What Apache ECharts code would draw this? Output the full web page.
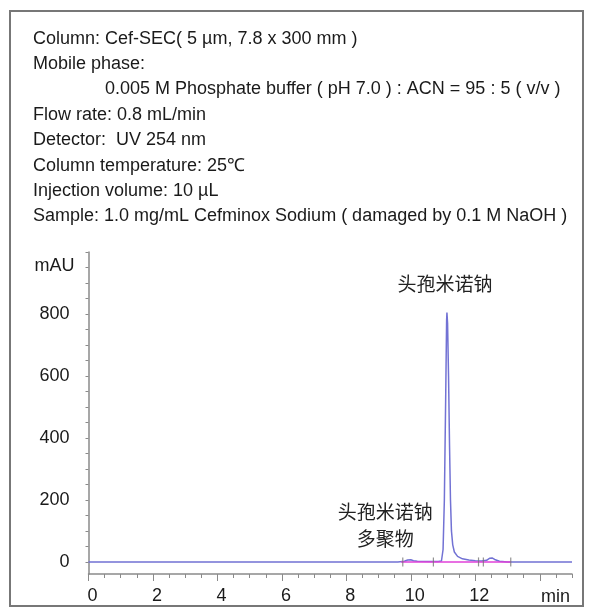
<!DOCTYPE html>
<html>
<head>
<meta charset="utf-8">
<script src="https://cdn.jsdelivr.net/npm/echarts@6/dist/echarts.min.js"></script>
<style>
  html, body { margin: 0; padding: 0; background: #fff; }
  #grafico { width: 592px; height: 613px; }
</style>
</head>
<body>
<div id="grafico"></div>
<script>
// Datos del cromatograma (tiempo en min, absorbancia en mAU)
var tiempos = [0, 9.6, 9.8, 9.9, 9.95, 10.0, 10.08, 10.2, 10.6, 10.85,
  10.95, 11.0, 11.04, 11.08, 11.11, 11.12, 11.14, 11.17, 11.2, 11.23,
  11.26, 11.3, 11.35, 11.45, 11.6, 11.8, 12.0, 12.2, 12.35, 12.45,
  12.52, 12.6, 12.75, 13.0, 15];
var absorbancia = [0, 0, 2, 6, 8, 7, 4, 2, 1, 1,
  3, 40, 200, 520, 780, 805, 770, 600, 380, 200,
  100, 55, 32, 18, 10, 6, 4, 3, 5, 12,
  13, 8, 2, 0, 0];

// Línea base de integración y marcas de integración
var baseTiempos = [9.7, 13.1];
var baseValores = [0, 0];
var marcasTiempos = [9.75, 10.7, 12.1, 12.25, 13.1];

// Picos con nombre
var picoNombres = ["头孢米诺钠", "头孢米诺钠\n多聚物"];
var picoTiempos = [11.12, 9.95];
var picoValores = [805, 8];

// Marcas de los ejes
var xTicksMayores = [0, 2, 4, 6, 8, 10, 12, 14];
var xTicksMenores = [0, 0.5, 1, 1.5, 2, 2.5, 3, 3.5, 4, 4.5, 5, 5.5, 6, 6.5, 7, 7.5,
  8, 8.5, 9, 9.5, 10, 10.5, 11, 11.5, 12, 12.5, 13, 13.5, 14, 14.5, 15];
var xEtiquetas = [0, 2, 4, 6, 8, 10, 12];
var yTicks = [0, 50, 100, 150, 200, 250, 300, 350, 400, 450, 500,
  550, 600, 650, 700, 750, 800, 850, 900, 950, 1000];
var yEtiquetas = [0, 200, 400, 600, 800];

var condiciones = [
  "Column: Cef-SEC( 5 µm, 7.8 x 300 mm )",
  "Mobile phase:",
  "{ind|0.005 M Phosphate buffer ( pH 7.0 ) : ACN = 95 : 5 ( v/v )}",
  "Flow rate: 0.8 mL/min",
  "Detector:  UV 254 nm",
  "Column temperature: 25℃",
  "Injection volume: 10 µL",
  "Sample: 1.0 mg/mL Cefminox Sodium ( damaged by 0.1 M NaOH )"
];

var fuente = "'Liberation Sans', Arial, sans-serif";
var fuenteCJK = "'Noto Sans CJK SC', sans-serif";
var grisEje = "#8a8a8a";

function puntos(xs, ys) {
  var out = [];
  for (var i = 0; i < xs.length; i++) out.push([xs[i], ys[i]]);
  return out;
}

var marcas = [];
for (var i = 0; i < marcasTiempos.length; i++) marcas.push([marcasTiempos[i], 0]);

var picos = [];
for (var i = 0; i < picoNombres.length; i++) {
  picos.push({
    coord: [picoTiempos[i], picoValores[i]],
    label: i === 0
      ? { formatter: picoNombres[i], distance: 15, offset: [-2, 0] }
      : { formatter: picoNombres[i], distance: 7, offset: [-24, 0] }
  });
}

var option = {
  animation: false,
  backgroundColor: "#fff",
  title: {
    text: condiciones.join("\n"),
    left: 33, top: 26, padding: 0,
    textStyle: {
      fontFamily: fuente, fontSize: 18, fontWeight: "normal",
      color: "#1a1a1a", lineHeight: 25.4,
      rich: {
        ind: { fontFamily: fuente, fontSize: 18, color: "#1a1a1a", lineHeight: 25.4, padding: [0, 0, 0, 72] }
      }
    }
  },
  graphic: [{
    type: "rect", silent: true,
    shape: { x: 10, y: 11, width: 573, height: 595 },
    style: { fill: "none", stroke: "#777", lineWidth: 2 }
  }],
  grid: { left: 88.5, right: 20, top: 252, bottom: 39 },
  xAxis: [
    {
      type: "value", min: 0, max: 15, position: "bottom",
      name: "min", nameLocation: "end", nameGap: -31,
      nameTextStyle: { fontFamily: fuente, fontSize: 18, color: "#1a1a1a", verticalAlign: "top", padding: [14, 0, 0, 0] },
      axisLine: { onZero: false, lineStyle: { color: grisEje, width: 1.5 } },
      splitLine: { show: false },
      axisTick: { customValues: xTicksMenores, length: 4, lineStyle: { color: grisEje } },
      axisLabel: {
        customValues: xEtiquetas, margin: 13, padding: [0, 0, 0, 8],
        fontFamily: fuente, fontSize: 18, color: "#1a1a1a"
      }
    },
    {
      // eje auxiliar solo para las marcas mayores (más largas)
      type: "value", min: 0, max: 15, position: "bottom", offset: 0,
      axisLine: { show: false, onZero: false },
      splitLine: { show: false },
      axisTick: { show: true, customValues: xTicksMayores, length: 7, lineStyle: { color: grisEje } },
      axisLabel: { show: false }
    }
  ],
  yAxis: {
    type: "value", min: -39, max: 1000,
    name: "mAU", nameLocation: "end", nameGap: -14,
    nameTextStyle: { fontFamily: fuente, fontSize: 18, color: "#1a1a1a", align: "right", verticalAlign: "middle", padding: [0, 14, 0, 0] },
    axisLine: { show: true, onZero: false, lineStyle: { color: grisEje, width: 1.5 } },
    splitLine: { show: false },
    axisTick: { customValues: yTicks, length: 3, lineStyle: { color: grisEje } },
    axisLabel: {
      customValues: yEtiquetas, margin: 19, padding: [14, 0, 0, 0],
      fontFamily: fuente, fontSize: 18, color: "#1a1a1a"
    }
  },
  series: [
    {
      name: "Cromatograma", type: "line",
      data: puntos(tiempos, absorbancia),
      showSymbol: false, symbol: "none",
      lineStyle: { color: "#7272d4", width: 1.5 },
      z: 2,
      markPoint: {
        symbol: "circle", symbolSize: 0,
        label: {
          show: true, position: "top",
          fontFamily: fuenteCJK, fontSize: 19, lineHeight: 27,
          color: "#222", align: "center"
        },
        data: picos
      }
    },
    {
      name: "Línea base", type: "line",
      data: puntos(baseTiempos, baseValores),
      showSymbol: false, symbol: "none",
      lineStyle: { color: "#e040d8", width: 1.5 },
      z: 3
    },
    {
      name: "Marcas", type: "scatter",
      data: marcas,
      symbol: "rect", symbolSize: [1.2, 9],
      itemStyle: { color: "#777" },
      z: 4
    }
  ]
};

var chart = echarts.init(document.getElementById("grafico"));
chart.setOption(option);
</script>
</body>
</html>
